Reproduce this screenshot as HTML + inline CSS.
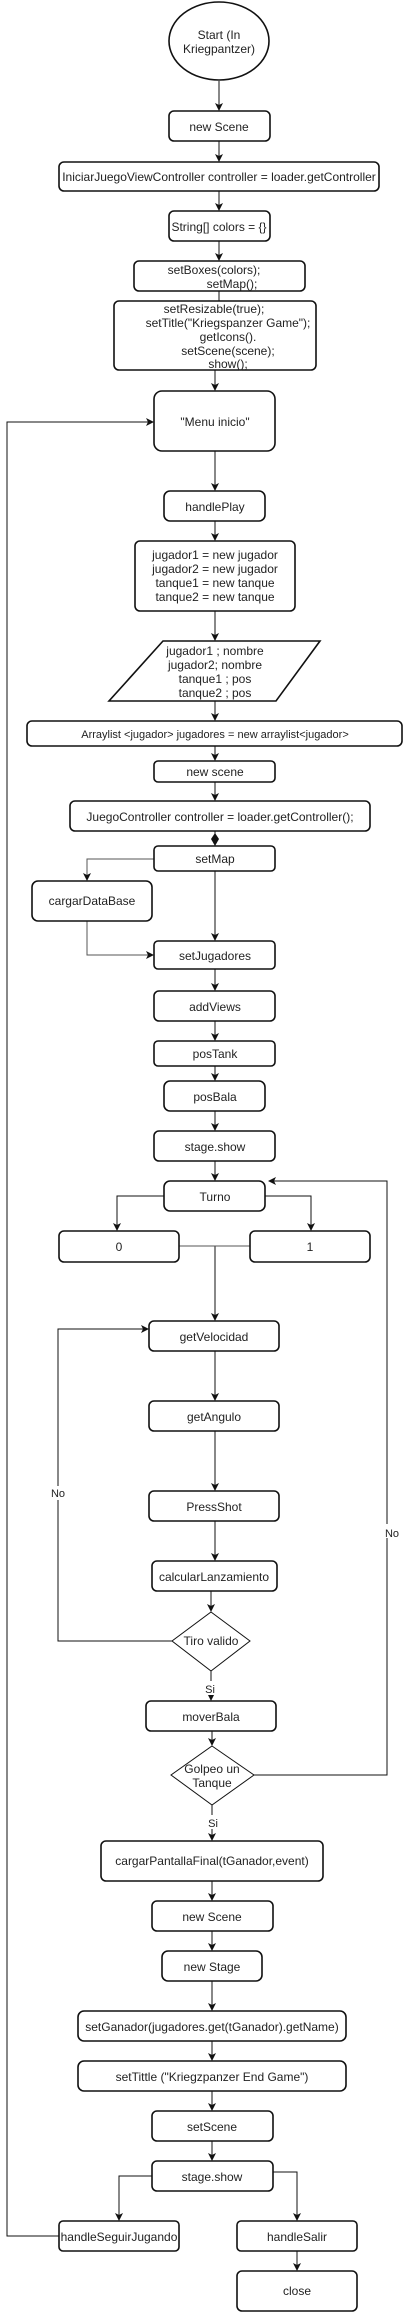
<!DOCTYPE html>
<html><head><meta charset="utf-8"><style>
html,body{margin:0;padding:0;background:#fff;}
svg{display:block;}
text{font-family:"Liberation Sans",Arial,sans-serif;font-size:12px;fill:#222;text-anchor:middle;}
.b{fill:#fff;stroke:#111;stroke-width:1.6;}
.l{fill:none;stroke:#111;stroke-width:1;}
.g{fill:none;stroke:#555;stroke-width:1;}
</style></head><body>
<svg width="404" height="2312" viewBox="0 0 404 2312" xmlns="http://www.w3.org/2000/svg">
<defs>
<marker id="a" markerWidth="8" markerHeight="8" refX="7" refY="4" orient="auto" markerUnits="userSpaceOnUse"><path d="M0,0 L8,4 L0,8 L2,4 Z" fill="#111"/></marker>
</defs>
<!-- connectors -->
<g class="l">
<path d="M219 81 V110" marker-end="url(#a)"/>
<path d="M219 141 V161" marker-end="url(#a)"/>
<path d="M219 191 V210" marker-end="url(#a)"/>
<path d="M219 241 V260" marker-end="url(#a)"/>
<path d="M219 291 V301"/>
<path d="M215 370 V390" marker-end="url(#a)"/>
<path d="M215 451 V490" marker-end="url(#a)"/>
<path d="M215 521 V540" marker-end="url(#a)"/>
<path d="M215 611 V640" marker-end="url(#a)"/>
<path d="M215 701 V720" marker-end="url(#a)"/>
<path d="M215 746 V760" marker-end="url(#a)"/>
<path d="M215 781 V800" marker-end="url(#a)"/>
<path d="M215 831 V846"/>
<path d="M215 871 V940" marker-end="url(#a)"/>
<path d="M215 969 V990" marker-end="url(#a)"/>
<path d="M215 1021 V1040" marker-end="url(#a)"/>
<path d="M215 1066 V1080" marker-end="url(#a)"/>
<path d="M215 1111 V1130" marker-end="url(#a)"/>
<path d="M215 1161 V1180" marker-end="url(#a)"/>
<path d="M164 1196 H117 V1230" marker-end="url(#a)"/>
<path d="M265 1196 H311 V1230" marker-end="url(#a)"/>
<path d="M215 1246 V1320" marker-end="url(#a)"/>
<path d="M215 1351 V1400" marker-end="url(#a)"/>
<path d="M215 1431 V1490" marker-end="url(#a)"/>
<path d="M215 1521 V1560" marker-end="url(#a)"/>
<path d="M211 1591 V1611" marker-end="url(#a)"/>
<path d="M211 1671 V1700" marker-end="url(#a)"/>
<path d="M212 1731 V1745" marker-end="url(#a)"/>
<path d="M254 1775 H387 V1181 H269" marker-end="url(#a)"/>
<path d="M212 1805 V1840" marker-end="url(#a)"/>
<path d="M212 1881 V1900" marker-end="url(#a)"/>
<path d="M212 1931 V1950" marker-end="url(#a)"/>
<path d="M212 1981 V2010" marker-end="url(#a)"/>
<path d="M212 2041 V2060" marker-end="url(#a)"/>
<path d="M212 2091 V2110" marker-end="url(#a)"/>
<path d="M212 2141 V2160" marker-end="url(#a)"/>
<path d="M152 2176 H119 V2220" marker-end="url(#a)"/>
<path d="M273 2172 H297 V2220" marker-end="url(#a)"/>
<path d="M297 2251 V2270" marker-end="url(#a)"/>
<path d="M59 2236 H7 V422 H153" marker-end="url(#a)"/>
<path d="M172 1641 H58 V1329 H148" marker-end="url(#a)"/>
</g>
<g class="g">
<path d="M154 859 H87 V880" marker-end="url(#a)"/>
<path d="M87 921 V955 H153" marker-end="url(#a)"/>
<path d="M179 1246 H250"/>
</g>
<path d="M215 833 L219 839 L215 846 L211 839 Z" fill="#111"/>
<!-- nodes -->
<ellipse class="b" cx="219" cy="41" rx="50" ry="39"/>
<text x="219" y="39">Start (In</text><text x="219" y="53">Kriegpantzer)</text>
<rect class="b" x="169" y="111" width="101" height="30" rx="5"/><text x="219" y="131">new Scene</text>
<rect class="b" x="59" y="162" width="320" height="29" rx="5"/><text x="219" y="181">IniciarJuegoViewController controller = loader.getController</text>
<rect class="b" x="169" y="211" width="101" height="30" rx="5"/><text x="219" y="231">String[] colors = {}</text>
<rect class="b" x="134" y="261" width="171" height="30" rx="5"/><text x="214" y="274">setBoxes(colors);</text><text x="232" y="288">setMap();</text>
<rect class="b" x="114" y="301" width="202" height="69" rx="5"/>
<text x="214" y="313">setResizable(true);</text><text x="228" y="327">setTitle("Kriegspanzer Game");</text><text x="228" y="341">getIcons().</text><text x="228" y="355">setScene(scene);</text><text x="228" y="368">show();</text>
<rect class="b" x="154" y="391" width="121" height="60" rx="8"/><text x="215" y="426">"Menu inicio"</text>
<rect class="b" x="164" y="491" width="101" height="30" rx="6"/><text x="215" y="511">handlePlay</text>
<rect class="b" x="135" y="541" width="160" height="70" rx="5"/>
<text x="215" y="559">jugador1 = new jugador</text><text x="215" y="573">jugador2 = new jugador</text><text x="215" y="587">tanque1 = new tanque</text><text x="215" y="601">tanque2 = new tanque</text>
<path class="b" d="M163 641 H320 L276 701 H109 Z"/>
<text x="215" y="655">jugador1 ; nombre</text><text x="215" y="669">jugador2; nombre</text><text x="215" y="683">tanque1 ; pos</text><text x="215" y="697">tanque2 ; pos</text>
<rect class="b" x="27" y="721" width="375" height="25" rx="5"/><text x="215" y="738" style="font-size:11px">Arraylist &lt;jugador&gt; jugadores = new arraylist&lt;jugador&gt;</text>
<rect class="b" x="154" y="761" width="121" height="21" rx="4"/><text x="215" y="776">new scene</text>
<rect class="b" x="70" y="801" width="300" height="30" rx="5"/><text x="220" y="821">JuegoController controller = loader.getController();</text>
<rect class="b" x="154" y="846" width="121" height="25" rx="4"/><text x="215" y="863">setMap</text>
<rect class="b" x="32" y="881" width="120" height="40" rx="6"/><text x="92" y="905">cargarDataBase</text>
<rect class="b" x="154" y="941" width="121" height="28" rx="4"/><text x="215" y="960">setJugadores</text>
<rect class="b" x="154" y="991" width="121" height="30" rx="5"/><text x="215" y="1011">addViews</text>
<rect class="b" x="154" y="1041" width="121" height="25" rx="4"/><text x="215" y="1058">posTank</text>
<rect class="b" x="164" y="1081" width="101" height="30" rx="6"/><text x="215" y="1101">posBala</text>
<rect class="b" x="154" y="1131" width="121" height="30" rx="5"/><text x="215" y="1151">stage.show</text>
<rect class="b" x="164" y="1181" width="101" height="30" rx="6"/><text x="215" y="1201">Turno</text>
<rect class="b" x="59" y="1231" width="120" height="31" rx="5"/><text x="119" y="1251">0</text>
<rect class="b" x="250" y="1231" width="120" height="31" rx="5"/><text x="310" y="1251">1</text>
<rect class="b" x="149" y="1321" width="130" height="30" rx="5"/><text x="214" y="1341">getVelocidad</text>
<rect class="b" x="149" y="1401" width="130" height="30" rx="5"/><text x="214" y="1421">getAngulo</text>
<rect class="b" x="149" y="1491" width="130" height="30" rx="5"/><text x="214" y="1511">PressShot</text>
<rect class="b" x="152" y="1561" width="125" height="30" rx="5"/><text x="214" y="1581">calcularLanzamiento</text>
<path d="M211 1612 L250 1641 L211 1671 L172 1641 Z" fill="#fff" stroke="#111" stroke-width="1"/><text x="211" y="1645">Tiro valido</text>
<rect class="b" x="146" y="1701" width="130" height="30" rx="5"/><text x="211" y="1721">moverBala</text>
<path d="M212 1746 L254 1775 L212 1805 L171 1775 Z" fill="#fff" stroke="#111" stroke-width="1"/><text x="212" y="1773">Golpeo un</text><text x="212" y="1787">Tanque</text>
<rect class="b" x="101" y="1841" width="222" height="40" rx="5"/><text x="212" y="1865">cargarPantallaFinal(tGanador,event)</text>
<rect class="b" x="152" y="1901" width="121" height="30" rx="5"/><text x="212" y="1921">new Scene</text>
<rect class="b" x="162" y="1951" width="100" height="30" rx="6"/><text x="212" y="1971">new Stage</text>
<rect class="b" x="78" y="2011" width="268" height="30" rx="6"/><text x="212" y="2031">setGanador(jugadores.get(tGanador).getName)</text>
<rect class="b" x="78" y="2061" width="268" height="30" rx="6"/><text x="212" y="2081">setTittle ("Kriegzpanzer End Game")</text>
<rect class="b" x="152" y="2111" width="121" height="30" rx="5"/><text x="212" y="2131">setScene</text>
<rect class="b" x="152" y="2161" width="121" height="30" rx="5"/><text x="212" y="2181">stage.show</text>
<rect class="b" x="59" y="2221" width="120" height="30" rx="4"/><text x="119" y="2241">handleSeguirJugando</text>
<rect class="b" x="237" y="2221" width="120" height="30" rx="4"/><text x="297" y="2241">handleSalir</text>
<rect class="b" x="237" y="2271" width="120" height="40" rx="5"/><text x="297" y="2295">close</text>
<!-- labels -->
<rect x="50" y="1486" width="17" height="14" fill="#fff"/><text x="58" y="1497" style="font-size:11px">No</text>
<rect x="383" y="1524" width="18" height="14" fill="#fff"/><text x="392" y="1537" style="font-size:11px">No</text>
<rect x="203" y="1681" width="14" height="14" fill="#fff"/><text x="210" y="1693" style="font-size:11px">Si</text>
<rect x="206" y="1815" width="14" height="14" fill="#fff"/><text x="213" y="1827" style="font-size:11px">Si</text>
</svg>
</body></html>
